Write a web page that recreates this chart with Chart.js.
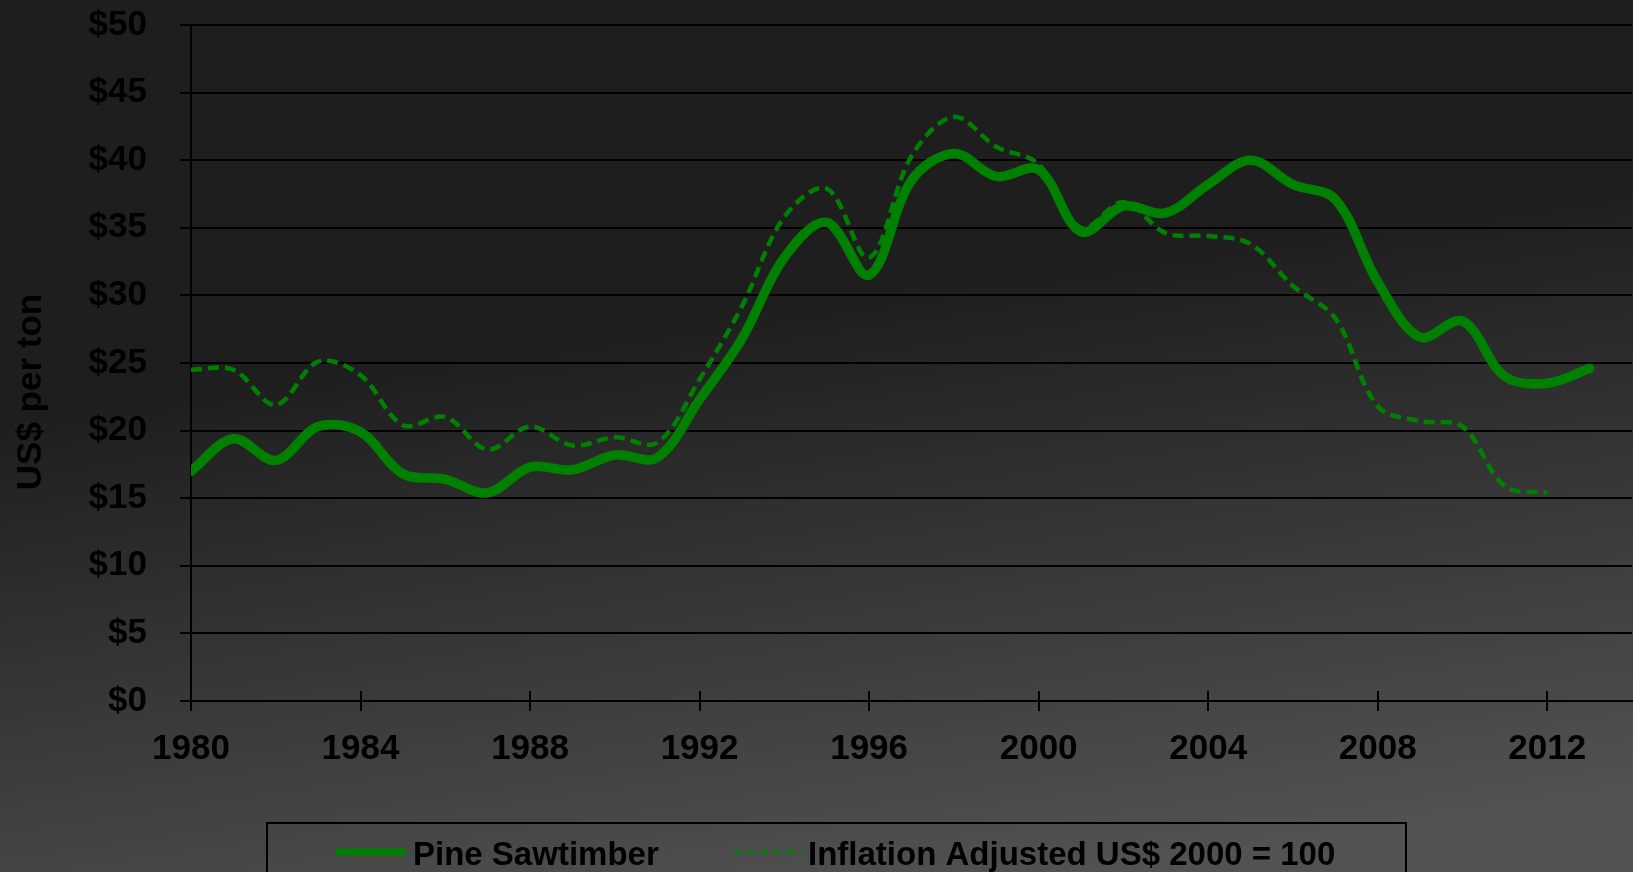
<!DOCTYPE html>
<html>
<head>
<meta charset="utf-8">
<title>Pine Sawtimber prices</title>
<script src="https://cdn.jsdelivr.net/npm/chart.js@4.4.0/dist/chart.umd.min.js"></script>
<style>
  html, body { margin: 0; padding: 0; background: #1e1e1e; overflow: hidden; }
  canvas { display: block; }
</style>
</head>
<body>
<canvas id="priceChart" width="1633" height="872"></canvas>
<script>
// data
var years = [1980, 1981, 1982, 1983, 1984, 1985, 1986, 1987, 1988, 1989,
             1990, 1991, 1992, 1993, 1994, 1995, 1996, 1997, 1998, 1999,
             2000, 2001, 2002, 2003, 2004, 2005, 2006, 2007, 2008, 2009,
             2010, 2011, 2012, 2013];

var pineSawtimber = [17.0, 19.4, 17.8, 20.3, 19.9, 16.8, 16.4, 15.4, 17.3, 17.1,
                     18.2, 18.0, 22.3, 26.8, 32.8, 35.4, 31.5, 38.5, 40.5, 38.8,
                     39.3, 34.7, 36.6, 36.1, 38.2, 40.0, 38.2, 37.1, 31.0, 26.9,
                     28.1, 24.0, 23.5, 24.6];

// no 2013 value for this one
var inflationAdjusted = [24.5, 24.5, 21.9, 25.1, 24.1, 20.4, 21.0, 18.6, 20.3, 18.9,
                         19.5, 19.1, 23.8, 29.2, 35.8, 37.9, 32.8, 40.3, 43.2, 41.0,
                         39.7, 35.0, 36.9, 34.6, 34.4, 33.8, 30.7, 28.3, 21.8, 20.7,
                         20.3, 15.9, 15.4];

var xTickYears = [1980, 1984, 1988, 1992, 1996, 2000, 2004, 2008, 2012];
var yTickValues = [0, 5, 10, 15, 20, 25, 30, 35, 40, 45, 50];
var seriesLabels = ['Pine Sawtimber', 'Inflation Adjusted US$ 2000 = 100'];
var axisTitle = 'US$ per ton';

var fontFamily = '"Liberation Sans", Arial, sans-serif';
var tickFont = { family: fontFamily, size: 35, weight: 'bold' };

function toPoints(values) {
    return values.map(function (v, i) {
        return { x: years[i], y: v };
    });
}

// dark grey gradient behind everything
var backgroundPlugin = {
    id: 'background',
    beforeDraw: function (chart) {
        var ctx = chart.ctx;
        var grad = ctx.createLinearGradient(600, 330, 687, 930);
        grad.addColorStop(0, '#1e1e1e');
        grad.addColorStop(1, '#525252');
        ctx.save();
        ctx.fillStyle = grad;
        ctx.fillRect(0, 0, chart.width, chart.height);
        ctx.restore();
    }
};

// axis title, cross ticks and the boxed legend
var extrasPlugin = {
    id: 'extras',
    beforeDatasetsDraw: function (chart) {
        var ctx = chart.ctx;
        var xScale = chart.scales.x;
        var bottom = chart.chartArea.bottom;
        ctx.save();
        ctx.strokeStyle = '#000';
        ctx.lineWidth = 2;
        xTickYears.forEach(function (yr) {
            var px = Math.round(xScale.getPixelForValue(yr));
            ctx.beginPath();
            ctx.moveTo(px, bottom);
            ctx.lineTo(px, bottom - 10);
            ctx.stroke();
        });
        ctx.restore();
    },
    afterDraw: function (chart) {
        var ctx = chart.ctx;
        var ds = chart.data.datasets;
        ctx.save();

        // y axis title
        ctx.fillStyle = '#000';
        ctx.font = 'bold 35px ' + fontFamily;
        ctx.translate(41, 392);
        ctx.rotate(-Math.PI / 2);
        ctx.textAlign = 'center';
        ctx.textBaseline = 'alphabetic';
        ctx.fillText(axisTitle, 0, 0);
        ctx.setTransform(1, 0, 0, 1, 0, 0);

        // legend box
        ctx.strokeStyle = '#000';
        ctx.lineWidth = 2;
        ctx.strokeRect(267, 823, 1139, 80);

        ctx.font = 'bold 33px ' + fontFamily;
        ctx.textAlign = 'left';

        // solid sample
        ctx.strokeStyle = ds[0].borderColor;
        ctx.lineWidth = 7;
        ctx.lineCap = 'butt';
        ctx.beginPath();
        ctx.moveTo(336, 852);
        ctx.lineTo(406, 852);
        ctx.stroke();
        ctx.fillText(ds[0].label, 413, 865);

        // dashed sample
        ctx.strokeStyle = ds[1].borderColor;
        ctx.lineWidth = 3;
        ctx.setLineDash([8, 5]);
        ctx.beginPath();
        ctx.moveTo(734, 852);
        ctx.lineTo(802, 852);
        ctx.stroke();
        ctx.setLineDash([]);
        ctx.fillText(ds[1].label, 808, 865);

        ctx.restore();
    }
};

var ctx = document.getElementById('priceChart').getContext('2d');
var priceChart = new Chart(ctx, {
    type: 'line',
    data: {
        datasets: [{
            label: seriesLabels[0],
            data: toPoints(pineSawtimber),
            borderColor: '#008000',
            borderWidth: 9.5,
            borderCapStyle: 'round',
            borderJoinStyle: 'round',
            pointRadius: 0,
            tension: 0.35,
            fill: false,
            order: 1,
        }, {
            label: seriesLabels[1],
            data: toPoints(inflationAdjusted),
            borderColor: '#008000',
            borderWidth: 4.5,
            borderDash: [11, 6],
            pointRadius: 0,
            tension: 0.35,
            fill: false,
            order: 0,
        }],
    },
    options: {
        responsive: false,
        animation: false,
        layout: { padding: { top: 25, right: 1, bottom: 0, left: 0 } },
        plugins: {
            legend: { display: false },
            tooltip: { enabled: false },
        },
        scales: {
            x: {
                type: 'linear',
                min: 1980,
                max: 2014,
                afterBuildTicks: function (scale) {
                    scale.ticks = xTickYears.map(function (v) { return { value: v }; });
                },
                afterFit: function (scale) { scale.height = 171; },
                border: { color: '#000', width: 2 },
                grid: { drawOnChartArea: false, drawTicks: true, tickLength: 10, color: '#000', lineWidth: 2 },
                ticks: {
                    font: tickFont,
                    color: '#000',
                    padding: 17,
                    maxRotation: 0,
                    autoSkip: false,
                    callback: function (v) { return String(v); },
                },
            },
            y: {
                min: 0,
                max: 50,
                afterBuildTicks: function (scale) {
                    scale.ticks = yTickValues.map(function (v) { return { value: v }; });
                },
                afterFit: function (scale) {
                    scale.width = 191;
                    scale.paddingTop = 0;
                    scale.paddingBottom = 0;
                },
                border: { color: '#000', width: 2 },
                grid: { color: '#000', lineWidth: 2, tickLength: 11 },
                ticks: {
                    font: tickFont,
                    color: '#000',
                    padding: 33,
                    callback: function (v) { return '$' + v; },
                },
            },
        },
    },
    plugins: [backgroundPlugin, extrasPlugin],
});
</script>
</body>
</html>
